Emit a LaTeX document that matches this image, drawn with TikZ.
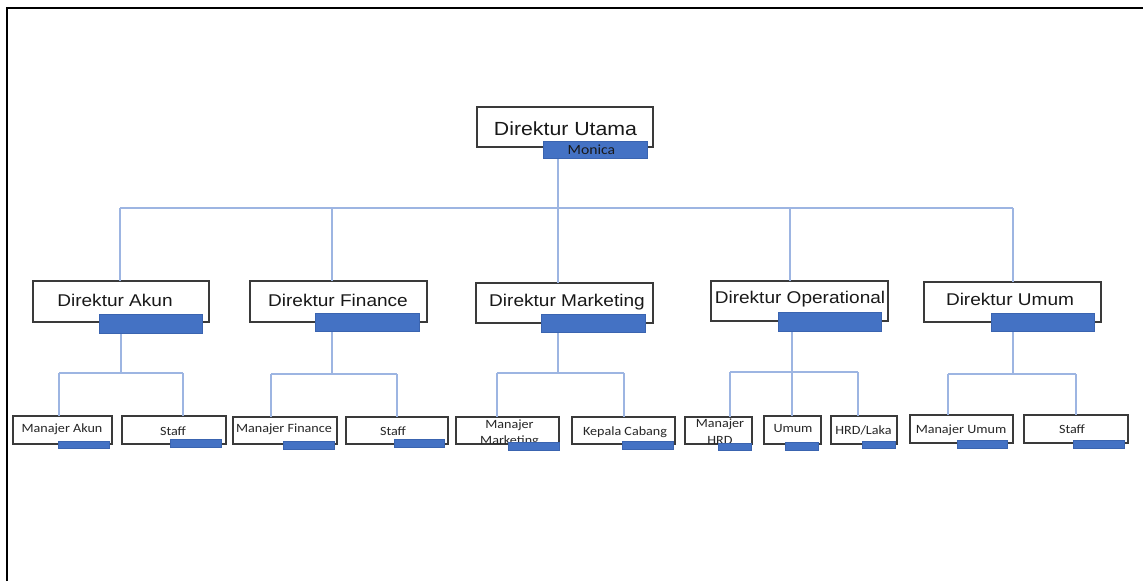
\documentclass[tikz,border=0pt]{standalone}
\usepackage{fontspec}
\setmainfont{Liberation Sans}
\newfontfamily\hfont[FakeStretch=1.12]{Liberation Sans}
\newfontfamily\sfont[FakeStretch=1.12]{Carlito}
\usetikzlibrary{fit}
\definecolor{barblue}{HTML}{4472C4}
\definecolor{barline}{HTML}{3A64B0}
\definecolor{connblue}{HTML}{9DB5E2}
\definecolor{boxline}{HTML}{3A3A3A}
\tikzset{
  boxst/.style={draw=boxline, fill=white, line width=1.1pt, inner sep=0pt, outer sep=0pt},
  barst/.style={draw=barline, fill=barblue, line width=0.6pt, inner sep=0pt, outer sep=0pt},
  conn/.style={draw=connblue, line width=1.1pt},
  toptxt/.style={anchor=base, inner sep=0pt, font=\hfont\fontsize{19}{22}\selectfont, text=black!90},
  midtxt/.style={anchor=base, inner sep=0pt, font=\hfont\fontsize{17}{20}\selectfont, text=black!90},
  smtxt/.style={anchor=base, inner sep=0pt, font=\sfont\fontsize{12.6}{14}\selectfont, text=black!85},
  bartxt/.style={anchor=base, inner sep=0pt, font=\sfont\fontsize{14}{16}\selectfont, text=black!90},
}
\begin{document}
\begin{tikzpicture}[x=1pt,y=-1pt]
\useasboundingbox (0,0) rectangle (1143,581);
% outer frame
\draw[line width=2pt] (7,581) -- (7,8) -- (1143,8);

% ---------- boxes ----------
\node[boxst, fit={(477,107) (653,147)}] (utama) {};
\node[boxst, fit={(33,281) (209,322)}] (akun) {};
\node[boxst, fit={(250,281) (427,322)}] (fin) {};
\node[boxst, fit={(476,283) (653,323)}] (mkt) {};
\node[boxst, fit={(711,281) (888,321)}] (ops) {};
\node[boxst, fit={(924,282) (1101,322)}] (umum) {};

\node[boxst, fit={(13,416) (112,444)}] (akm) {};
\node[boxst, fit={(122,416) (226,444)}] (aks) {};
\node[boxst, fit={(233,417) (337,444)}] (fim) {};
\node[boxst, fit={(346,417) (448,444)}] (fis) {};
\node[boxst, fit={(456,417) (559,444)}] (mkm) {};
\node[boxst, fit={(572,417) (675,444)}] (mkk) {};
\node[boxst, fit={(685,417) (752,444)}] (opm) {};
\node[boxst, fit={(764,416) (821,444)}] (opu) {};
\node[boxst, fit={(831,416) (897,444)}] (oph) {};
\node[boxst, fit={(910,415) (1013,443)}] (umm) {};
\node[boxst, fit={(1024,415) (1128,443)}] (ums) {};

% ---------- texts ----------
\node[toptxt] (utamaT) at (565.5,135) {Direktur Utama};
\node[midtxt] (akunT) at (115,306) {Direktur Akun};
\node[midtxt] (finT) at (338,306) {Direktur Finance};
\node[midtxt] (mktT) at (567,306) {Direktur Marketing};
\node[midtxt] (opsT) at (800,303) {Direktur Operational};
\node[midtxt] (umumT) at (1010,305) {Direktur Umum};

\node[smtxt] (akmT) at (62,432) {Manajer Akun};
\node[smtxt] (aksT) at (173,435) {Staff};
\node[smtxt] (fimT) at (284,432) {Manajer Finance};
\node[smtxt] (fisT) at (393,435) {Staff};
\node[smtxt] (mkmT1) at (509.5,428) {Manajer};
\node[smtxt] (mkmT2) at (509.5,444) {Marketing};
\node[smtxt] (mkkT) at (625,435) {Kepala Cabang};
\node[smtxt] (opmT1) at (720,427) {Manajer};
\node[smtxt] (opmT2) at (720,444) {HRD};
\node[smtxt] (opuT) at (793,432) {Umum};
\node[smtxt] (ophT) at (863.5,434) {HRD/Laka};
\node[smtxt] (ummT) at (961,433) {Manajer Umum};
\node[smtxt] (umsT) at (1072,433) {Staff};

% ---------- connectors ----------
\coordinate (b1) at (120,208);
\coordinate (b2) at (332,208);
\coordinate (b3) at (558,208);
\coordinate (b4) at (790,208);
\coordinate (b5) at (1013,208);
\draw[conn] (utama.south -| b3) -- (b3);
\draw[conn] (b1) -- (b5);
\draw[conn] (b1) -- (akun.north -| b1);
\draw[conn] (b2) -- (fin.north -| b2);
\draw[conn] (b3) -- (mkt.north -| b3);
\draw[conn] (b4) -- (ops.north -| b4);
\draw[conn] (b5) -- (umum.north -| b5);

% Akun group
\coordinate (akJ) at (121,373);
\coordinate (akL) at (59,373);
\coordinate (akR) at (183,373);
\draw[conn] (akun.south -| akJ) -- (akJ);
\draw[conn] (akL) -- (akR);
\draw[conn] (akL) -- (akm.north -| akL);
\draw[conn] (akR) -- (aks.north -| akR);

% Finance group
\coordinate (fiJ) at (332,374);
\coordinate (fiL) at (271,374);
\coordinate (fiR) at (397,374);
\draw[conn] (fin.south -| fiJ) -- (fiJ);
\draw[conn] (fiL) -- (fiR);
\draw[conn] (fiL) -- (fim.north -| fiL);
\draw[conn] (fiR) -- (fis.north -| fiR);

% Marketing group
\coordinate (mkJ) at (558,373);
\coordinate (mkL) at (497,373);
\coordinate (mkR) at (624,373);
\draw[conn] (mkt.south -| mkJ) -- (mkJ);
\draw[conn] (mkL) -- (mkR);
\draw[conn] (mkL) -- (mkm.north -| mkL);
\draw[conn] (mkR) -- (mkk.north -| mkR);

% Operational group
\coordinate (opJ) at (792,372);
\coordinate (opL) at (730,372);
\coordinate (opR) at (858,372);
\draw[conn] (ops.south -| opJ) -- (opJ);
\draw[conn] (opL) -- (opR);
\draw[conn] (opL) -- (opm.north -| opL);
\draw[conn] (opJ) -- (opu.north -| opJ);
\draw[conn] (opR) -- (oph.north -| opR);

% Umum group
\coordinate (umJ) at (1013,374);
\coordinate (umL) at (948,374);
\coordinate (umR) at (1076,374);
\draw[conn] (umum.south -| umJ) -- (umJ);
\draw[conn] (umL) -- (umR);
\draw[conn] (umL) -- (umm.north -| umL);
\draw[conn] (umR) -- (ums.north -| umR);

% ---------- blue bars ----------
\node[barst, fit={(543,141) (647,158)}] (utamaB) {};
\node[bartxt] (monica) at (591.5,154) {Monica};

\node[barst, fit={(99,314) (202,333)}] (akunB) {};
\node[barst, fit={(315,313) (419,331)}] (finB) {};
\node[barst, fit={(541,314) (645,332)}] (mktB) {};
\node[barst, fit={(778,312) (881,331)}] (opsB) {};
\node[barst, fit={(991,313) (1094,331)}] (umumB) {};

\node[barst, fit={(58,441) (109,448)}] (akmB) {};
\node[barst, fit={(170,439) (221,447)}] (aksB) {};
\node[barst, fit={(283,441) (334,449)}] (fimB) {};
\node[barst, fit={(394,439) (444,447)}] (fisB) {};
\node[barst, fit={(508,442) (559,450)}] (mkmB) {};
\node[barst, fit={(622,441) (673,449)}] (mkkB) {};
\node[barst, fit={(718,443) (751,450)}] (opmB) {};
\node[barst, fit={(785,442) (818,450)}] (opuB) {};
\node[barst, fit={(862,441) (895,448)}] (ophB) {};
\node[barst, fit={(957,440) (1007,448)}] (ummB) {};
\node[barst, fit={(1073,440) (1124,448)}] (umsB) {};
\end{tikzpicture}
\end{document}
